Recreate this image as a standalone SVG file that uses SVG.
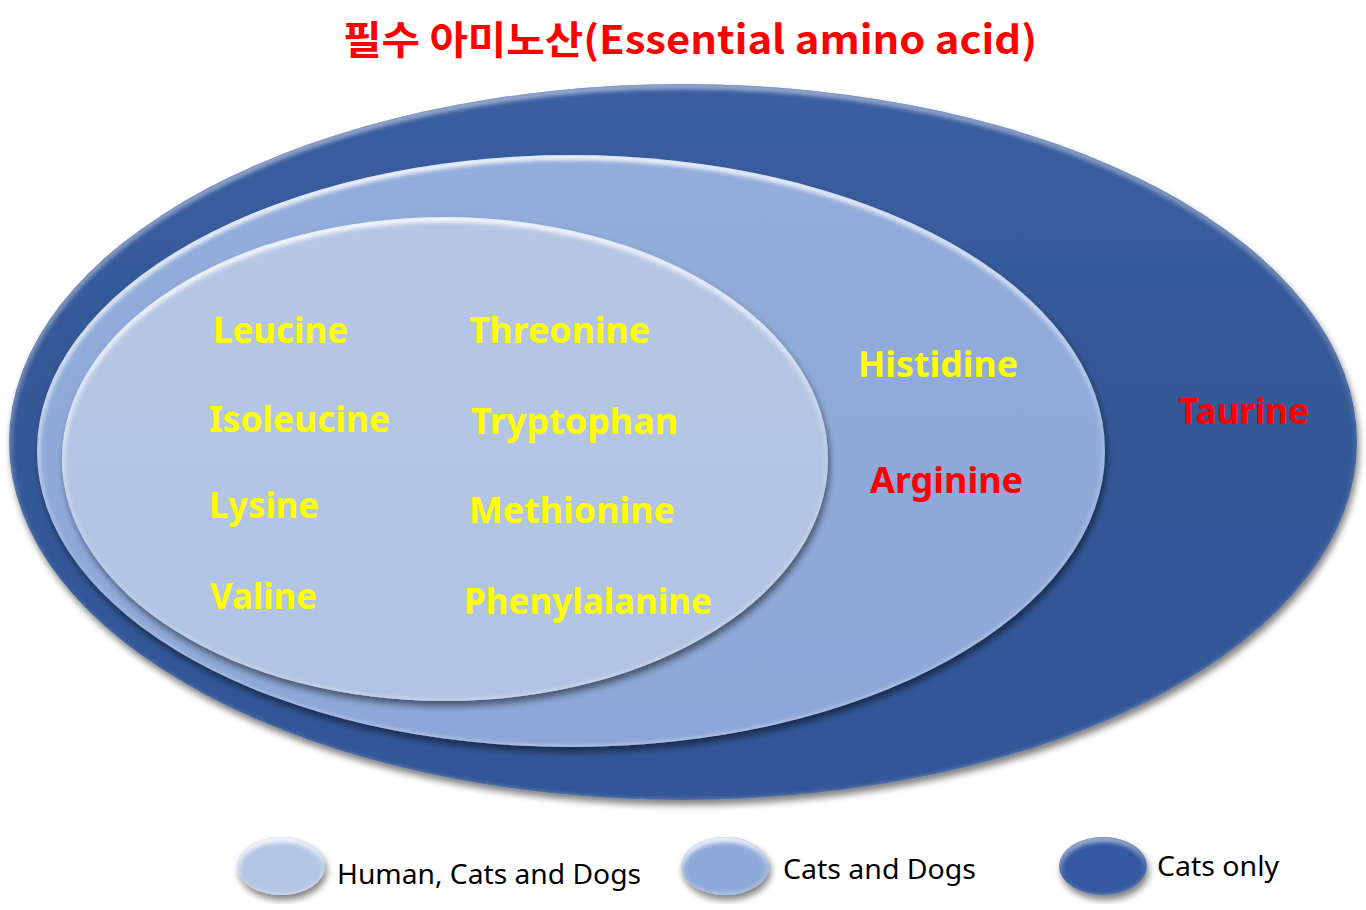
<svg xmlns="http://www.w3.org/2000/svg" width="1366" height="910" viewBox="0 0 1366 910">
<defs>
<style>
.title{font-family:"Noto Sans CJK KR","Noto Sans",sans-serif;font-weight:bold;font-size:39px;fill:#ff0000}
.yl{font-family:"Noto Sans","Open Sans",sans-serif;font-weight:bold;font-size:35px;fill:#ffff00}
.rd{font-family:"Noto Sans","Open Sans",sans-serif;font-weight:bold;font-size:35px;fill:#ff0000}
.lg{font-family:"Noto Sans","Open Sans",sans-serif;font-size:28px;fill:#000000}
.rim{fill:none;stroke:url(#gRim);stroke-width:6}
</style>
<filter id="shadow" x="-10%" y="-10%" width="120%" height="125%">
<feGaussianBlur in="SourceAlpha" stdDeviation="3.5"/>
<feOffset dx="2" dy="5" result="b"/>
<feComponentTransfer><feFuncA type="linear" slope="0.5"/></feComponentTransfer>
<feMerge><feMergeNode/><feMergeNode in="SourceGraphic"/></feMerge>
</filter>
<filter id="blur" x="-5%" y="-5%" width="110%" height="110%"><feGaussianBlur stdDeviation="2"/></filter>
<linearGradient id="gRim" x1="0.3" y1="0" x2="0.5" y2="1">
<stop offset="0" stop-color="#ffffff" stop-opacity="0.95"/>
<stop offset="0.35" stop-color="#ffffff" stop-opacity="0.6"/>
<stop offset="0.6" stop-color="#ffffff" stop-opacity="0.15"/>
<stop offset="1" stop-color="#ffffff" stop-opacity="0.45"/>
</linearGradient>
<linearGradient id="gOuter" x1="0" y1="0" x2="0" y2="1">
<stop offset="0" stop-color="#3a5ea2"/><stop offset="0.4" stop-color="#345896"/><stop offset="1" stop-color="#325797"/>
</linearGradient>
<linearGradient id="gMid" x1="0" y1="0" x2="0" y2="1">
<stop offset="0" stop-color="#92acdb"/><stop offset="1" stop-color="#8da8d8"/>
</linearGradient>
<linearGradient id="gIn" x1="0" y1="0" x2="0" y2="1">
<stop offset="0" stop-color="#b6c7e5"/><stop offset="1" stop-color="#b1c4e3"/>
</linearGradient>
<clipPath id="cOuter"><ellipse cx="683" cy="442" rx="674" ry="358"/></clipPath>
<clipPath id="cMid"><ellipse cx="571" cy="451" rx="534" ry="296"/></clipPath>
<clipPath id="cIn"><ellipse cx="445" cy="459" rx="383" ry="242"/></clipPath>
<clipPath id="cL1"><ellipse cx="281" cy="866" rx="44" ry="29"/></clipPath>
<clipPath id="cL2"><ellipse cx="725" cy="866" rx="44" ry="29"/></clipPath>
<clipPath id="cL3"><ellipse cx="1103" cy="866" rx="44" ry="29"/></clipPath>
</defs>
<rect width="1366" height="910" fill="#ffffff"/>

<g id="title">
<text class="title" x="343" y="54" textLength="694" lengthAdjust="spacingAndGlyphs">필수 아미노산(Essential amino acid)</text>
</g>

<g id="cats-only">
<ellipse cx="683" cy="442" rx="674" ry="358" fill="url(#gOuter)" filter="url(#shadow)"/>
<g clip-path="url(#cOuter)"><ellipse class="rim" cx="683" cy="444" rx="674" ry="358" opacity="0.55" filter="url(#blur)"/></g>
</g>
<g id="cats-and-dogs">
<ellipse cx="571" cy="451" rx="534" ry="296" fill="url(#gMid)" filter="url(#shadow)"/>
<g clip-path="url(#cMid)"><ellipse class="rim" cx="571" cy="453" rx="534" ry="296" filter="url(#blur)"/></g>
</g>
<g id="human-cats-dogs">
<ellipse cx="445" cy="459" rx="383" ry="242" fill="url(#gIn)" filter="url(#shadow)"/>
<g clip-path="url(#cIn)"><ellipse class="rim" cx="445" cy="461" rx="383" ry="242" filter="url(#blur)"/></g>
</g>

<g id="labels-inner">
<text class="yl" x="213" y="343" textLength="135" lengthAdjust="spacingAndGlyphs">Leucine</text>
<text class="yl" x="209" y="432" textLength="181" lengthAdjust="spacingAndGlyphs">Isoleucine</text>
<text class="yl" x="209" y="518" textLength="110" lengthAdjust="spacingAndGlyphs">Lysine</text>
<text class="yl" x="210" y="609" textLength="107" lengthAdjust="spacingAndGlyphs">Valine</text>
<text class="yl" x="469" y="343" textLength="181" lengthAdjust="spacingAndGlyphs">Threonine</text>
<text class="yl" x="471" y="434" textLength="207" lengthAdjust="spacingAndGlyphs">Tryptophan</text>
<text class="yl" x="469" y="523" textLength="206" lengthAdjust="spacingAndGlyphs">Methionine</text>
<text class="yl" x="464" y="614" textLength="248" lengthAdjust="spacingAndGlyphs">Phenylalanine</text>
</g>
<g id="labels-mid">
<text class="yl" x="858" y="377" textLength="160" lengthAdjust="spacingAndGlyphs">Histidine</text>
<text class="rd" x="870" y="493" textLength="153" lengthAdjust="spacingAndGlyphs">Arginine</text>
</g>
<g id="labels-outer">
<text class="rd" x="1178" y="424" textLength="131" lengthAdjust="spacingAndGlyphs">Taurine</text>
</g>

<g id="legend-1">
<ellipse cx="281" cy="866" rx="44" ry="29" fill="#b4c6e5" filter="url(#shadow)"/>
<g clip-path="url(#cL1)"><ellipse class="rim" cx="281" cy="868" rx="44" ry="29" stroke-width="5" filter="url(#blur)"/></g>
<text class="lg" x="337" y="884" textLength="304" lengthAdjust="spacingAndGlyphs">Human, Cats and Dogs</text>
</g>
<g id="legend-2">
<ellipse cx="725" cy="866" rx="44" ry="29" fill="#8eaada" filter="url(#shadow)"/>
<g clip-path="url(#cL2)"><ellipse class="rim" cx="725" cy="868" rx="44" ry="29" stroke-width="5" filter="url(#blur)"/></g>
<text class="lg" x="783" y="879" textLength="193" lengthAdjust="spacingAndGlyphs">Cats and Dogs</text>
</g>
<g id="legend-3">
<ellipse cx="1103" cy="866" rx="44" ry="29" fill="#3659a0" filter="url(#shadow)"/>
<g clip-path="url(#cL3)"><ellipse class="rim" cx="1103" cy="868" rx="44" ry="29" stroke-width="5" opacity="0.6" filter="url(#blur)"/></g>
<text class="lg" x="1157" y="876" textLength="122" lengthAdjust="spacingAndGlyphs">Cats only</text>
</g>
<g id="connectors"/>
</svg>
